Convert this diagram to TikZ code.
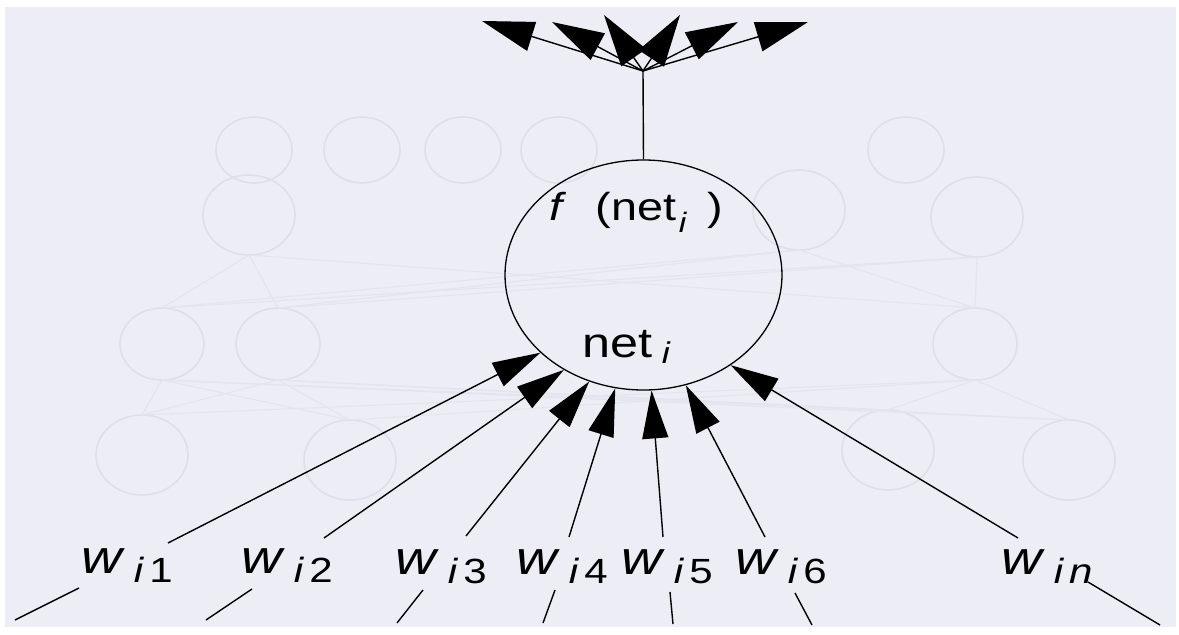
\documentclass[tikz,border=0pt]{standalone}
\usepackage{fontspec}
\setmainfont{Liberation Sans}
\usetikzlibrary{arrows.meta,shapes.geometric}
\definecolor{bgc}{RGB}{237,237,245}
\definecolor{ghost}{RGB}{223,223,233}
\definecolor{ghostl}{RGB}{228,228,238}
\newcommand\wlbl[1]{\scalebox{1.2}[1]{\fontsize{47}{50}\selectfont\itshape w\hspace{10pt}\raisebox{-9pt}{\fontsize{35}{40}\selectfont\itshape i\hspace{5pt}\upshape #1}}}
\begin{document}
\begin{tikzpicture}[x=1pt,y=-1pt,
  wire/.style={line width=1.4pt},
  inarrow/.style={wire,-{Triangle[length=48pt,width=26pt]}},
  outarrow/.style={wire,-{Triangle[length=52pt,width=30pt]}},
  ghostc/.style={draw=ghost,line width=1.6pt},
  ghostw/.style={draw=ghostl,line width=1.1pt},
  lbl/.style={anchor=base west,inner sep=0pt}]
\useasboundingbox (0,0) rectangle (1179,635);
\fill[white] (0,0) rectangle (1179,635);
\fill[bgc] (5,7) rectangle (1176,627);
% faint background network
\foreach \x in {254,362,463,559,906}
  \draw[ghostc] (\x,150) ellipse [x radius=38pt, y radius=33pt];
\foreach \x/\y in {249/215,799/210,977/217}
  \draw[ghostc] (\x,\y) ellipse [x radius=46pt, y radius=40pt];
\foreach \x/\y in {162/344,278/344,975/344}
  \draw[ghostc] (\x,\y) ellipse [x radius=42pt, y radius=36pt];
\foreach \x/\y in {142/455,350/460,888/450,1069/460}
  \draw[ghostc] (\x,\y) ellipse [x radius=46pt, y radius=40pt];
\foreach \a/\b in {142/455,350/460,888/450,1069/460}
  \foreach \c/\d in {162/344,278/344,975/344}
    \draw[ghostw] (\a,\b-40) -- (\c,\d+36);
\foreach \a/\b in {162/344,278/344,975/344}
  \foreach \c/\d in {249/215,799/210,977/217}
    \draw[ghostw] (\a,\b-36) -- (\c,\d+40);
% neuron
\node[draw,ellipse,line width=1.3pt,minimum width=277pt,minimum height=230pt,inner sep=0pt] (n) at (643.5,275) {};
\node[lbl] (ft) at (549,220) {\scalebox{1.2}[1]{\fontsize{39}{42}\selectfont\itshape f\upshape\hspace{28pt}(net\hspace{2pt}\raisebox{-12pt}{\fontsize{28}{30}\selectfont\itshape i}\hspace{18pt})}};
\node[lbl] (nt) at (582,357) {\scalebox{1.2}[1]{\fontsize{42}{46}\selectfont net\hspace{8pt}\raisebox{-6pt}{\fontsize{30}{34}\selectfont\itshape i}}};
% output fan
\coordinate (hub) at (643,71);
\coordinate (t1) at (482,21);
\coordinate (t2) at (552,22);
\coordinate (t3) at (604,15);
\coordinate (t4) at (680,15);
\coordinate (t5) at (738,22);
\coordinate (t6) at (808,22);
\draw[wire] (n.north) -- (hub);
\foreach \k in {1,...,6}
  \draw[outarrow] (hub) -- (t\k);
% inputs
\coordinate (b1) at (15,620);   \coordinate (l1) at (79,588);   \coordinate (u1) at (168,543);
\coordinate (b2) at (206,620);  \coordinate (l2) at (252,589);  \coordinate (u2) at (324,538);
\coordinate (b3) at (397,623);  \coordinate (l3) at (423,590);  \coordinate (u3) at (466,536);
\coordinate (b4) at (543,623);  \coordinate (l4) at (555,590);  \coordinate (u4) at (569,537);
\coordinate (b5) at (673,624);  \coordinate (l5) at (670,592);  \coordinate (u5) at (663,537);
\coordinate (b6) at (812,625);  \coordinate (l6) at (795,593);  \coordinate (u6) at (765,537);
\coordinate (b7) at (1160,625); \coordinate (l7) at (1088,582); \coordinate (u7) at (1018,538);
\foreach \k/\ang in {1/217,2/230,3/243.6,4/256.4,5/274,6/291.5,7/314.8}{
  \draw[wire] (b\k) -- (l\k);
  \draw[inarrow] (u\k) -- (n.\ang);
}
\node[lbl] (w1) at (81,573) {\wlbl{1}};
\node[lbl] (w2) at (241,573) {\wlbl{2}};
\node[lbl] (w3) at (395,574) {\wlbl{3}};
\node[lbl] (w4) at (516,574) {\wlbl{4}};
\node[lbl] (w5) at (621,574) {\wlbl{5}};
\node[lbl] (w6) at (735,574) {\wlbl{6}};
\node[lbl] (w7) at (1001,574) {\wlbl{\itshape n}};
\end{tikzpicture}
\end{document}
